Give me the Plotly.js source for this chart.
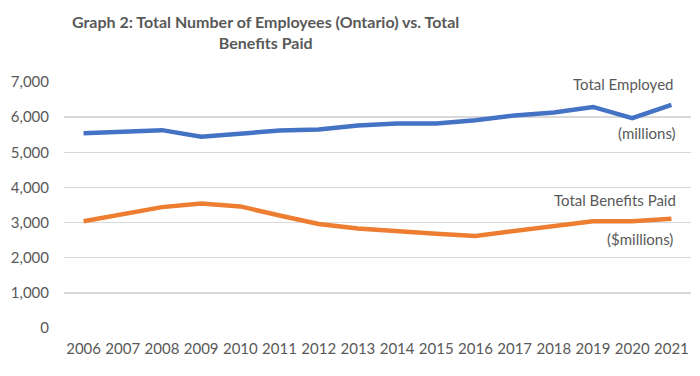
<!DOCTYPE html>
<html><head><meta charset="utf-8">
<script src="https://cdn.plot.ly/plotly-3.0.1.min.js"></script>
<style>body{margin:0;padding:0;background:#fff}#chart{width:700px;height:376px}</style>
</head><body><div id="chart"></div>
<script>
const years = ['2006','2007','2008','2009','2010','2011','2012','2013','2014','2015','2016','2017','2018','2019','2020','2021'];
const totalEmployed = [5540,5600,5630,5440,5540,5620,5650,5760,5820,5820,5910,6050,6130,6290,5970,6350];
const totalBenefits = [3040,3230,3440,3540,3460,3200,2960,2830,2740,2680,2620,2760,2900,3040,3040,3110];
const yTicks = [0,1000,2000,3000,4000,5000,6000,7000];

const grey = '#595959';
const font = 'Lato, "Open Sans", sans-serif';

const traces = [
  {x: years, y: totalEmployed, type:'scatter', mode:'lines', name:'Total Employed (millions)',
   line:{color:'#4472C4', width:4.5}},
  {x: years, y: totalBenefits, type:'scatter', mode:'lines', name:'Total Benefits Paid ($millions)',
   line:{color:'#ED7D31', width:4.5}}
];

const layout = {
  width:700, height:376,
  margin:{l:64, r:9, t:82, b:48},
  paper_bgcolor:'#fff', plot_bgcolor:'#fff',
  showlegend:false,
  font:{family:font, color:grey, size:15},
  xaxis:{type:'category', range:[-0.5, years.length-0.5], showgrid:false, showline:false, zeroline:false, ticks:'',
         ticklabelstandoff:10, tickfont:{size:15, color:grey}, fixedrange:true},
  yaxis:{range:[0,7000], tickvals:yTicks, tickformat:',d', showgrid:true, gridcolor:'#D9D9D9', gridwidth:1.3,
         zeroline:false, showline:false, ticks:'', ticklabelstandoff:14,
         tickfont:{size:15, color:grey}, fixedrange:true},
  annotations:[
    {xref:'paper', yref:'paper', x:0.322, y:1.205, xanchor:'center', yanchor:'middle', showarrow:false,
     text:'<b>Graph 2: Total Number of Employees (Ontario) vs. Total<br>Benefits Paid</b>',
     font:{family:font, size:16, color:grey}},
    {xref:'paper', yref:'y', x:0.975, y:6950, text:'Total Employed', showarrow:false, xanchor:'right', yanchor:'middle', font:{size:15,color:grey}, bgcolor:'#fff'},
    {xref:'paper', yref:'y', x:0.98, y:5560, text:'(millions)', showarrow:false, xanchor:'right', yanchor:'middle', font:{size:15,color:grey}},
    {xref:'paper', yref:'y', x:0.98, y:3630, text:'Total Benefits Paid', showarrow:false, xanchor:'right', yanchor:'middle', font:{size:15,color:grey}},
    {xref:'paper', yref:'y', x:0.975, y:2530, text:'($millions)', showarrow:false, xanchor:'right', yanchor:'middle', font:{size:15,color:grey}}
  ]
};
Plotly.newPlot('chart', traces, layout, {displayModeBar:false, staticPlot:true});
</script></body></html>
